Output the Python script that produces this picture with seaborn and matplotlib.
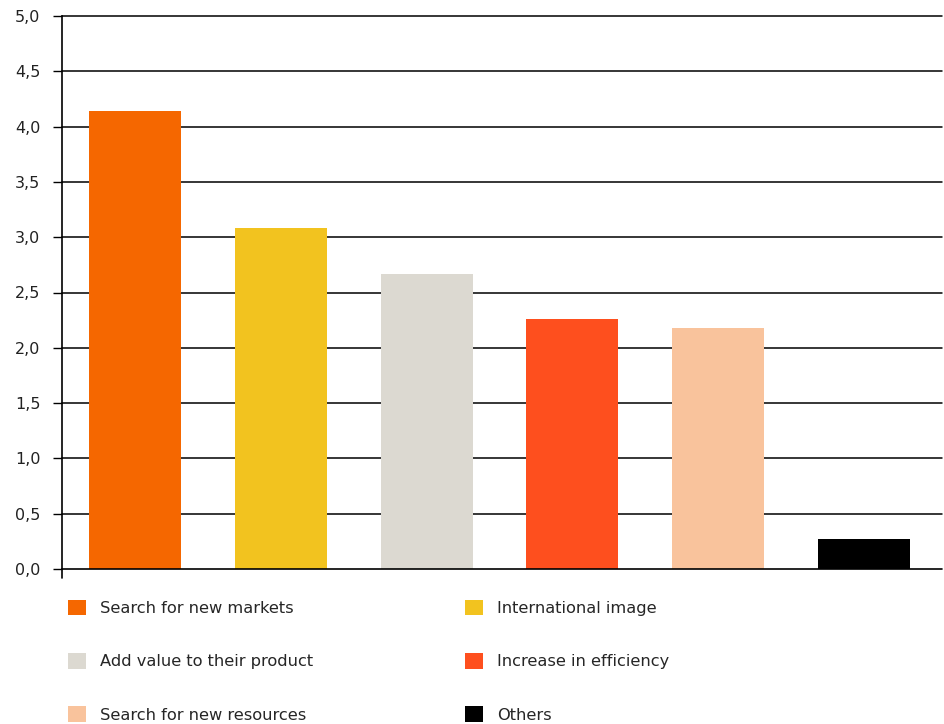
import matplotlib
matplotlib.use("Agg")
import matplotlib.pyplot as plt
import seaborn as sns
import pandas as pd
from matplotlib.patches import Patch
from matplotlib.lines import Line2D

categories = ["Search for new markets", "International image", "Add value to their product",
              "Increase in efficiency", "Search for new resources", "Others"]
values = [4.14, 3.08, 2.67, 2.26, 2.18, 0.27]
colors = ["#F56700", "#F2C31F", "#DCD9D1", "#FE4F1E", "#F9C39C", "#000000"]
yticks = [0.0, 0.5, 1.0, 1.5, 2.0, 2.5, 3.0, 3.5, 4.0, 4.5, 5.0]
ytick_labels = ["0,0", "0,5", "1,0", "1,5", "2,0", "2,5", "3,0", "3,5", "4,0", "4,5", "5,0"]

sns.set_theme(style="white")
plt.rcParams['font.family'] = ['DejaVu Sans']

df = pd.DataFrame({"cat": categories, "val": values})

fig = plt.figure(figsize=(9.45, 7.24), dpi=100)
ax = fig.add_axes([62/945, 1-569/724, (937-62)/945, (569-16)/724])

sns.barplot(data=df, x="cat", y="val", hue="cat", palette=colors, order=categories,
            hue_order=categories, width=0.63, dodge=False, legend=False, ax=ax,
            saturation=1, linewidth=0, edgecolor="none", zorder=3)

ax.set_xlim(-0.5, 5.5)
ax.set_ylim(0, 5)
ax.set_yticks(yticks)
ax.set_yticklabels(ytick_labels, fontsize=11.5, color="#222222")
ax.set_xticks([])
ax.set_xlabel("")
ax.set_ylabel("")
ax.yaxis.grid(False)
for yv in yticks:
    ax.add_line(Line2D([0, 1.006], [yv, yv], transform=ax.get_yaxis_transform(),
                       color="black", linewidth=1.1 if yv else 1.2, clip_on=False, zorder=1 if yv else 4))
for s in ["top", "right", "bottom"]:
    ax.spines[s].set_visible(False)
ax.spines["left"].set_color("black")
ax.spines["left"].set_linewidth(1.2)
ax.tick_params(axis="y", left=True, length=6.5, width=1, color="black", pad=9)
# extend y-axis line below zero
ax.add_line(Line2D([0, 0], [0, -9/553], transform=ax.transAxes, color="black",
                   linewidth=1.2, clip_on=False))

order = [0, 2, 4, 1, 3, 5]
handles = [Patch(facecolor=colors[i], edgecolor="none") for i in order]
labels = [categories[i] for i in order]
fig.legend(handles, labels, ncol=2, loc="upper left",
           bbox_to_anchor=(63/945, 1-595/724), frameon=False, fontsize=11.7,
           handlelength=1.1, handleheight=1.1, handletextpad=0.86,
           labelspacing=2.27, columnspacing=9.37, borderaxespad=0, borderpad=0.3)

fig.savefig("out.png", dpi=100)
